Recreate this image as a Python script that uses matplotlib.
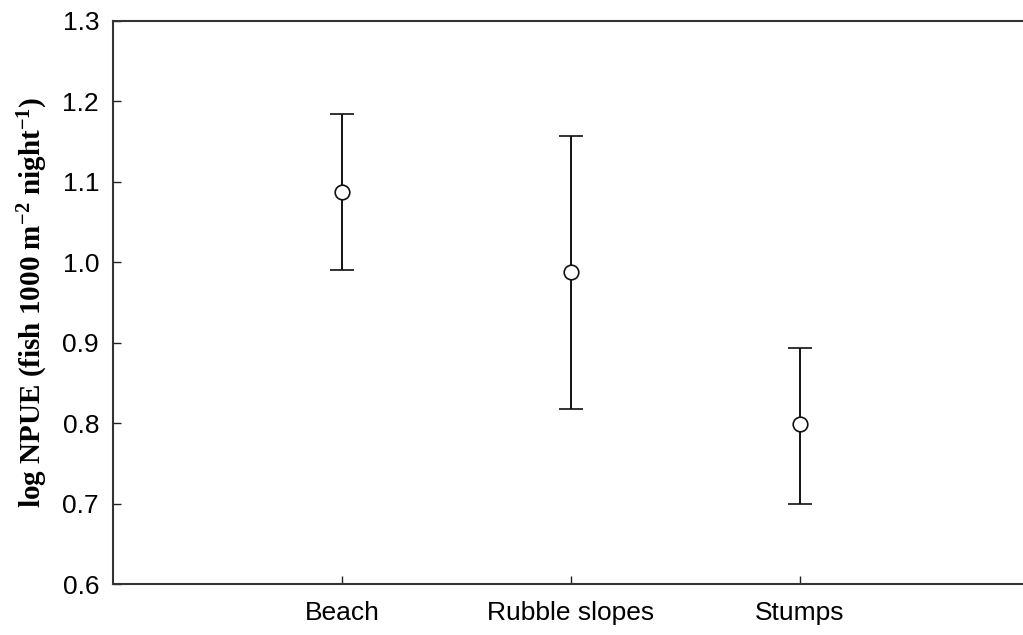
import matplotlib
matplotlib.use("Agg")
import matplotlib.pyplot as plt

habitats = ["Beach", "Rubble slopes", "Stumps"]
means = [1.088, 0.988, 0.799]
upper = [1.184, 1.157, 0.894]
lower = [0.990, 0.818, 0.700]

plt.rcParams["font.family"] = "Liberation Sans"
plt.rcParams["mathtext.fontset"] = "custom"
plt.rcParams["mathtext.rm"] = "Liberation Serif:bold"
plt.rcParams["mathtext.it"] = "Liberation Serif:bold"
plt.rcParams["mathtext.bf"] = "Liberation Serif:bold"

W, H = 1023, 635
fig = plt.figure(figsize=(W / 100, H / 100), dpi=100)
ax = fig.add_axes([113 / W, (H - 584) / H, (1029 - 113) / W, (584 - 21) / H])

x = list(range(len(habitats)))
err_lo = [m - l for m, l in zip(means, lower)]
err_hi = [u - m for m, u in zip(means, upper)]

ax.errorbar(x, means, yerr=[err_lo, err_hi], fmt="o", mfc="white", mec="#111111",
            ms=10.5, mew=1.2, ecolor="#111111", elinewidth=1.4, capsize=8.5,
            capthick=1.4, zorder=3)

ax.set_xlim(-1, 3)
ax.set_ylim(0.6, 1.3)
ax.set_xticks(x)
ax.set_xticklabels(habitats)
ax.set_yticks([0.6, 0.7, 0.8, 0.9, 1.0, 1.1, 1.2, 1.3])
ax.set_yticklabels([f"{v:.1f}" for v in ax.get_yticks()])
ax.tick_params(direction="in", length=6, width=1, labelsize=19, colors="#222222",
               labelcolor="black")
ax.tick_params(axis="y", pad=10)
ax.tick_params(axis="x", pad=12)
for s in ax.spines.values():
    s.set_linewidth(1.5)
    s.set_color("#333333")

ax.set_ylabel("log NPUE (fish 1000 m$^{-2}$ night$^{-1}$)", family="Liberation Serif",
              fontweight="bold", fontsize=21)
ax.yaxis.set_label_coords((50 - 113) / (1029 - 113), 0.5)

fig.savefig("out.png", dpi=100)
